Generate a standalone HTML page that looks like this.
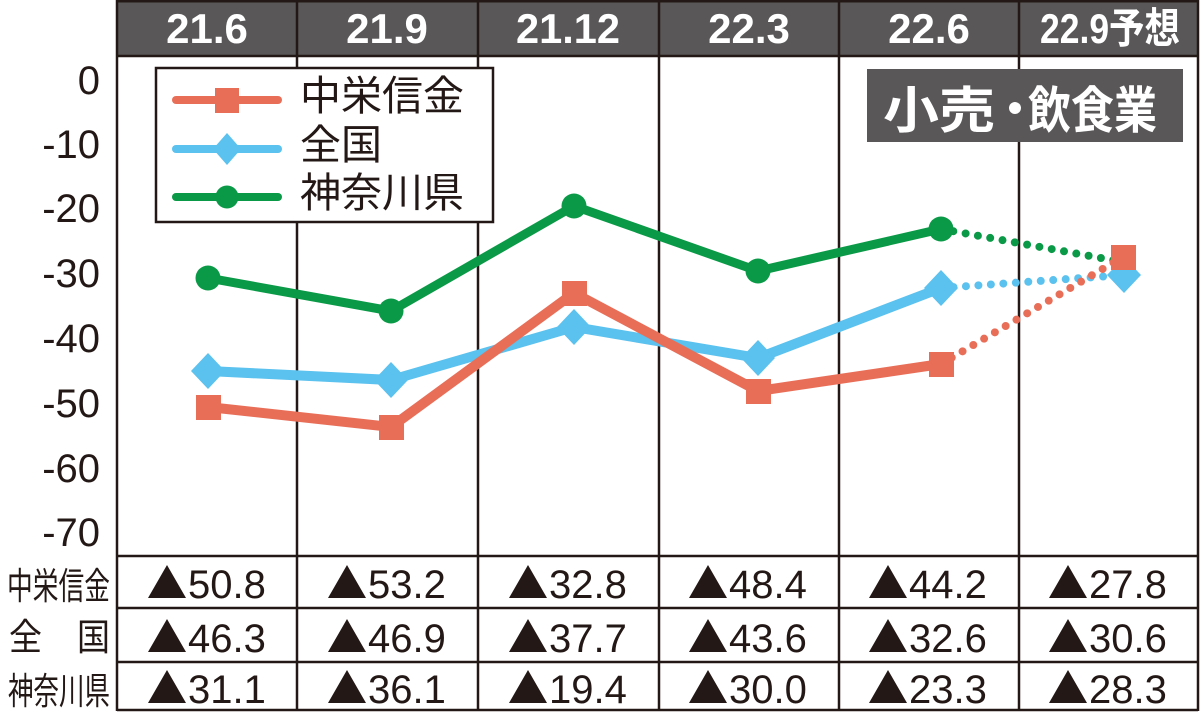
<!DOCTYPE html>
<html>
<head>
<meta charset="utf-8">
<style>
html,body{margin:0;padding:0;background:#fff;}
svg{display:block;}
.hd{font-family:"Liberation Sans","Noto Sans CJK JP",sans-serif;font-weight:bold;font-size:42px;fill:#fff;}
.ax{font-family:"Liberation Sans",sans-serif;font-size:40px;fill:#231815;}
.lg{font-family:"Liberation Sans","Noto Sans CJK JP",sans-serif;font-size:41px;fill:#231815;}
.rl{font-family:"Liberation Sans","Noto Sans CJK JP",sans-serif;font-size:37px;fill:#231815;}
.vl{font-family:"Liberation Sans",sans-serif;font-size:40px;fill:#231815;}
.tt{font-family:"Liberation Sans","Noto Sans CJK JP",sans-serif;font-weight:bold;font-size:50px;fill:#fff;}
</style>
</head>
<body>
<svg width="1200" height="713" viewBox="0 0 1200 713" xmlns="http://www.w3.org/2000/svg">
<rect width="1200" height="713" fill="#fff"/>
<!-- header -->
<rect x="117" y="0" width="1081" height="56" fill="#595757"/>
<line x1="117" y1="1" x2="1198" y2="1" stroke="#231815" stroke-width="3"/>
<line x1="117" y1="56" x2="1198" y2="56" stroke="#231815" stroke-width="2.5"/>
<text class="hd" x="207" y="43" text-anchor="middle">21.6</text>
<text class="hd" x="387" y="43" text-anchor="middle">21.9</text>
<text class="hd" x="568" y="43" text-anchor="middle" textLength="104" lengthAdjust="spacingAndGlyphs">21.12</text>
<text class="hd" x="749" y="43" text-anchor="middle">22.3</text>
<text class="hd" x="929" y="43" text-anchor="middle">22.6</text>
<text class="hd" x="1110" y="43" text-anchor="middle" textLength="140" lengthAdjust="spacingAndGlyphs">22.9予想</text>

<!-- vertical dividers -->
<g stroke="#231815" stroke-width="2.5">
<line x1="117" y1="0" x2="117" y2="711"/>
<line x1="297" y1="0" x2="297" y2="711"/>
<line x1="478" y1="0" x2="478" y2="711"/>
<line x1="659" y1="0" x2="659" y2="711"/>
<line x1="839" y1="0" x2="839" y2="711"/>
<line x1="1019" y1="0" x2="1019" y2="711"/>
<line x1="1198" y1="0" x2="1198" y2="711"/>
</g>
<!-- horizontal table lines -->
<g stroke="#231815" stroke-width="2.5">
<line x1="117" y1="556" x2="1198" y2="556"/>
<line x1="117" y1="608" x2="1198" y2="608"/>
<line x1="117" y1="662" x2="1198" y2="662"/>
<line x1="117" y1="710" x2="1198" y2="710"/>
</g>

<!-- y axis labels -->
<g class="ax" text-anchor="end">
<text x="100" y="94">0</text>
<text x="100" y="158">-10</text>
<text x="100" y="222">-20</text>
<text x="100" y="287">-30</text>
<text x="100" y="352">-40</text>
<text x="100" y="417">-50</text>
<text x="100" y="482">-60</text>
<text x="100" y="546">-70</text>
</g>

<!-- legend -->
<rect x="156" y="68" width="337" height="154" fill="#fff" stroke="#231815" stroke-width="2.5"/>
<line x1="176" y1="100" x2="278" y2="100" stroke="#E86E58" stroke-width="8" stroke-linecap="round"/>
<rect x="215" y="88" width="24" height="25" fill="#E86E58"/>
<line x1="176" y1="149" x2="278" y2="149" stroke="#5BC1EE" stroke-width="8" stroke-linecap="round"/>
<polygon points="227,133 241,149 227,165 213,149" fill="#5BC1EE"/>
<line x1="176" y1="197" x2="278" y2="197" stroke="#0A9A47" stroke-width="8" stroke-linecap="round"/>
<circle cx="227" cy="197" r="11.5" fill="#0A9A47"/>
<text class="lg" x="300" y="110">中栄信金</text>
<text class="lg" x="300" y="159">全国</text>
<text class="lg" x="300" y="207">神奈川県</text>

<!-- title box -->
<rect x="867" y="69" width="316" height="73" fill="#595757"/>
<text class="tt" x="883" y="128" textLength="112" lengthAdjust="spacingAndGlyphs">小売</text>
<circle cx="1015" cy="108" r="6" fill="#fff"/>
<text class="tt" x="1028" y="128" textLength="129" lengthAdjust="spacingAndGlyphs">飲食業</text>

<!-- series: green -->
<polyline points="208,278 391,311 574,206 758,271 941,229" fill="none" stroke="#0A9A47" stroke-width="9" stroke-linejoin="round"/>
<line x1="941" y1="229" x2="1123" y2="262" stroke="#0A9A47" stroke-width="8" stroke-linecap="round" stroke-dasharray="0 12.5"/>
<g fill="#0A9A47">
<circle cx="208" cy="278" r="12.5"/>
<circle cx="391" cy="311" r="12.5"/>
<circle cx="574" cy="206" r="12.5"/>
<circle cx="758" cy="271" r="12.5"/>
<circle cx="941" cy="229" r="12.5"/>
<circle cx="1123" cy="262" r="12.5"/>
</g>

<!-- series: blue -->
<polyline points="208,371 391,380 574,327 758,358 941,288" fill="none" stroke="#5BC1EE" stroke-width="10" stroke-linejoin="round"/>
<line x1="941" y1="288" x2="1124" y2="275" stroke="#5BC1EE" stroke-width="8" stroke-linecap="round" stroke-dasharray="0 12.5"/>
<g fill="#5BC1EE">
<polygon points="208,353 225,371 208,389 191,371"/>
<polygon points="391,362 408,380 391,398 374,380"/>
<polygon points="574,309 591,327 574,345 557,327"/>
<polygon points="758,340 775,358 758,376 741,358"/>
<polygon points="941,270 958,288 941,306 924,288"/>
<polygon points="1124,257 1141,275 1124,293 1107,275"/>
</g>

<!-- series: red -->
<polyline points="208,407 391,427 574,293 758,391 941,364" fill="none" stroke="#E86E58" stroke-width="10" stroke-linejoin="round"/>
<line x1="941" y1="364" x2="1123" y2="257" stroke="#E86E58" stroke-width="8" stroke-linecap="round" stroke-dasharray="0 12.5"/>
<g fill="#E86E58">
<rect x="196" y="395" width="25" height="25"/>
<rect x="379" y="415" width="25" height="25"/>
<rect x="562" y="281" width="25" height="25"/>
<rect x="746" y="379" width="25" height="25"/>
<rect x="929" y="352" width="25" height="25"/>
<rect x="1111" y="245" width="25" height="25"/>
</g>

<!-- row labels -->
<text class="rl" x="7" y="599" textLength="103" lengthAdjust="spacingAndGlyphs">中栄信金</text>
<text class="rl" x="9" y="650" textLength="33" lengthAdjust="spacingAndGlyphs">全</text>
<text class="rl" x="77" y="650" textLength="33" lengthAdjust="spacingAndGlyphs">国</text>
<text class="rl" x="8" y="704" textLength="102" lengthAdjust="spacingAndGlyphs">神奈川県</text>

<!-- values -->
<defs>
<polygon id="tri" points="0,0 19,-33 38,0" fill="#231815"/>
</defs>
<g class="vl">
<use href="#tri" x="148" y="598"/><text x="188" y="598">50.8</text>
<use href="#tri" x="328" y="598"/><text x="368" y="598">53.2</text>
<use href="#tri" x="509" y="598"/><text x="549" y="598">32.8</text>
<use href="#tri" x="689" y="598"/><text x="729" y="598">48.4</text>
<use href="#tri" x="869" y="598"/><text x="909" y="598">44.2</text>
<use href="#tri" x="1049" y="598"/><text x="1089" y="598">27.8</text>
<use href="#tri" x="148" y="652"/><text x="188" y="652">46.3</text>
<use href="#tri" x="328" y="652"/><text x="368" y="652">46.9</text>
<use href="#tri" x="509" y="652"/><text x="549" y="652">37.7</text>
<use href="#tri" x="689" y="652"/><text x="729" y="652">43.6</text>
<use href="#tri" x="869" y="652"/><text x="909" y="652">32.6</text>
<use href="#tri" x="1049" y="652"/><text x="1089" y="652">30.6</text>
<use href="#tri" x="148" y="703"/><text x="188" y="703">31.1</text>
<use href="#tri" x="328" y="703"/><text x="368" y="703">36.1</text>
<use href="#tri" x="509" y="703"/><text x="549" y="703">19.4</text>
<use href="#tri" x="689" y="703"/><text x="729" y="703">30.0</text>
<use href="#tri" x="869" y="703"/><text x="909" y="703">23.3</text>
<use href="#tri" x="1049" y="703"/><text x="1089" y="703">28.3</text>
</g>
</svg>
</body>
</html>
